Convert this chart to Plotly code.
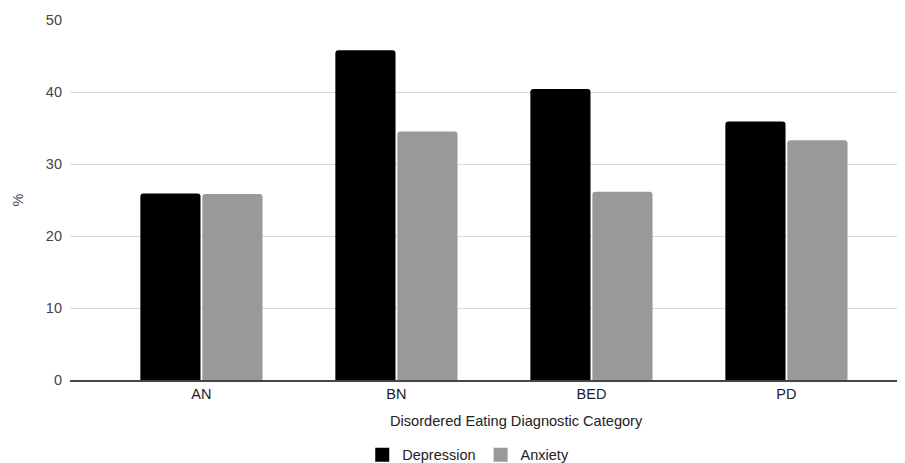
import plotly.graph_objects as go

categories = ["AN", "BN", "BED", "PD"]
depression = [25.9, 45.8, 40.4, 35.9]
anxiety = [25.85, 34.5, 26.15, 33.3]
series_names = ["Depression", "Anxiety"]
series_colors = ["#000000", "#999999"]
y_ticks = [0, 10, 20, 30, 40, 50]
x_title = "Disordered Eating Diagnostic Category"
y_title = "%"

font_family = "Liberation Sans, Arial, sans-serif"

fig = go.Figure()
for name, vals, col in zip(series_names, [depression, anxiety], series_colors):
    fig.add_trace(go.Bar(x=categories, y=vals, name=name, showlegend=False,
                         marker=dict(color=col, line=dict(width=0), cornerradius=3)))
for name, col in zip(series_names, series_colors):
    fig.add_trace(go.Scatter(x=[None], y=[None], mode="markers", name=name,
                             marker=dict(symbol="square", size=14, color=col)))

fig.add_annotation(text=x_title, xref="paper", yref="paper", x=0.535, y=-0.113,
                   xanchor="center", yanchor="middle", showarrow=False,
                   font=dict(size=14.6, color="#222222"))

# page body has an 8px default margin, so the figure is sized to fill the rest
fig.update_layout(
    width=897, height=455,
    margin=dict(l=62, r=0, t=12, b=83, autoexpand=False),
    paper_bgcolor="white", plot_bgcolor="white",
    barmode="group", bargap=0.364, bargroupgap=0.03,
    font=dict(family=font_family, size=14.5, color="#444444"),
    showlegend=True,
    legend=dict(orientation="h", x=0.35, y=-0.208, xanchor="left", yanchor="middle",
                font=dict(size=14.5, color="#222222"), itemwidth=30,
                traceorder="normal"),
    xaxis=dict(range=[-0.674, 3.608], showgrid=False, showline=True, automargin=False,
               linecolor="#444444", linewidth=1.5, ticks="",
               tickfont=dict(size=14.5, color="#222222")),
    yaxis=dict(range=[0, 50], tickvals=y_ticks, showgrid=True, gridcolor="#d9d9d9",
               gridwidth=1, zeroline=False, ticks="", ticklabelstandoff=7, automargin=False,
               tickfont=dict(size=14.5, color="#444444"),
               title=dict(text=y_title, standoff=18, font=dict(size=14.5, color="#444444"))),
)

fig.write_html("out.html")
